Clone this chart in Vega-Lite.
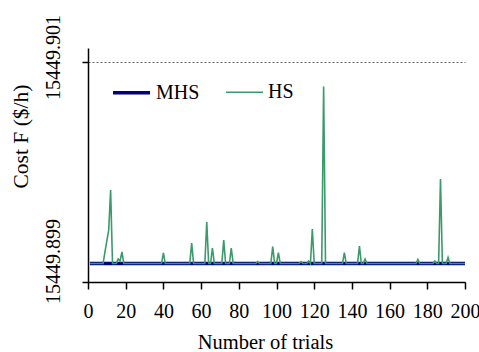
{
"$schema": "https://vega.github.io/schema/vega-lite/v6.json",
"width": 377, "height": 234,
"autosize": "none",
"padding": {"left": 88, "top": 48, "right": 14, "bottom": 70},
"background": "white",
"config": {"font": "Liberation Serif", "view": {"stroke": null}},
"data": {"values": [
{"t":1,"MHS":15449.899168,"HS":15449.899168},{"t":2,"MHS":15449.899168,"HS":15449.899168},{"t":3,"MHS":15449.899168,"HS":15449.899168},{"t":4,"MHS":15449.899168,"HS":15449.899168},{"t":5,"MHS":15449.899168,"HS":15449.899168},
{"t":6,"MHS":15449.899168,"HS":15449.899168},{"t":7,"MHS":15449.899168,"HS":15449.899168},{"t":8,"MHS":15449.899168,"HS":15449.899168},{"t":9,"MHS":15449.899168,"HS":15449.899273},{"t":10,"MHS":15449.899168,"HS":15449.899373},
{"t":11,"MHS":15449.899168,"HS":15449.899473},{"t":12,"MHS":15449.899168,"HS":15449.899836},{"t":13,"MHS":15449.899168,"HS":15449.899168},{"t":14,"MHS":15449.899168,"HS":15449.899168},{"t":15,"MHS":15449.899168,"HS":15449.899168},
{"t":16,"MHS":15449.899168,"HS":15449.899209},{"t":17,"MHS":15449.899168,"HS":15449.899191},{"t":18,"MHS":15449.899168,"HS":15449.899273},{"t":19,"MHS":15449.899168,"HS":15449.899168},{"t":20,"MHS":15449.899168,"HS":15449.899168},
{"t":21,"MHS":15449.899168,"HS":15449.899168},{"t":22,"MHS":15449.899168,"HS":15449.899168},{"t":23,"MHS":15449.899168,"HS":15449.899168},{"t":24,"MHS":15449.899168,"HS":15449.899168},{"t":25,"MHS":15449.899168,"HS":15449.899168},
{"t":26,"MHS":15449.899168,"HS":15449.899168},{"t":27,"MHS":15449.899168,"HS":15449.899168},{"t":28,"MHS":15449.899168,"HS":15449.899168},{"t":29,"MHS":15449.899168,"HS":15449.899168},{"t":30,"MHS":15449.899168,"HS":15449.899168},
{"t":31,"MHS":15449.899168,"HS":15449.899168},{"t":32,"MHS":15449.899168,"HS":15449.899168},{"t":33,"MHS":15449.899168,"HS":15449.899168},{"t":34,"MHS":15449.899168,"HS":15449.899168},{"t":35,"MHS":15449.899168,"HS":15449.899168},
{"t":36,"MHS":15449.899168,"HS":15449.899168},{"t":37,"MHS":15449.899168,"HS":15449.899168},{"t":38,"MHS":15449.899168,"HS":15449.899168},{"t":39,"MHS":15449.899168,"HS":15449.899168},{"t":40,"MHS":15449.899168,"HS":15449.899264},
{"t":41,"MHS":15449.899168,"HS":15449.899168},{"t":42,"MHS":15449.899168,"HS":15449.899168},{"t":43,"MHS":15449.899168,"HS":15449.899168},{"t":44,"MHS":15449.899168,"HS":15449.899168},{"t":45,"MHS":15449.899168,"HS":15449.899168},
{"t":46,"MHS":15449.899168,"HS":15449.899168},{"t":47,"MHS":15449.899168,"HS":15449.899168},{"t":48,"MHS":15449.899168,"HS":15449.899168},{"t":49,"MHS":15449.899168,"HS":15449.899168},{"t":50,"MHS":15449.899168,"HS":15449.899168},
{"t":51,"MHS":15449.899168,"HS":15449.899168},{"t":52,"MHS":15449.899168,"HS":15449.899168},{"t":53,"MHS":15449.899168,"HS":15449.899168},{"t":54,"MHS":15449.899168,"HS":15449.899168},{"t":55,"MHS":15449.899168,"HS":15449.899355},
{"t":56,"MHS":15449.899168,"HS":15449.899168},{"t":57,"MHS":15449.899168,"HS":15449.899168},{"t":58,"MHS":15449.899168,"HS":15449.899168},{"t":59,"MHS":15449.899168,"HS":15449.899168},{"t":60,"MHS":15449.899168,"HS":15449.899168},
{"t":61,"MHS":15449.899168,"HS":15449.899168},{"t":62,"MHS":15449.899168,"HS":15449.899168},{"t":63,"MHS":15449.899168,"HS":15449.899545},{"t":64,"MHS":15449.899168,"HS":15449.899168},{"t":65,"MHS":15449.899168,"HS":15449.899168},
{"t":66,"MHS":15449.899168,"HS":15449.899309},{"t":67,"MHS":15449.899168,"HS":15449.899168},{"t":68,"MHS":15449.899168,"HS":15449.899168},{"t":69,"MHS":15449.899168,"HS":15449.899168},{"t":70,"MHS":15449.899168,"HS":15449.899168},
{"t":71,"MHS":15449.899168,"HS":15449.899168},{"t":72,"MHS":15449.899168,"HS":15449.899382},{"t":73,"MHS":15449.899168,"HS":15449.899168},{"t":74,"MHS":15449.899168,"HS":15449.899168},{"t":75,"MHS":15449.899168,"HS":15449.899168},
{"t":76,"MHS":15449.899168,"HS":15449.899309},{"t":77,"MHS":15449.899168,"HS":15449.899168},{"t":78,"MHS":15449.899168,"HS":15449.899168},{"t":79,"MHS":15449.899168,"HS":15449.899168},{"t":80,"MHS":15449.899168,"HS":15449.899168},
{"t":81,"MHS":15449.899168,"HS":15449.899168},{"t":82,"MHS":15449.899168,"HS":15449.899168},{"t":83,"MHS":15449.899168,"HS":15449.899168},{"t":84,"MHS":15449.899168,"HS":15449.899168},{"t":85,"MHS":15449.899168,"HS":15449.899168},
{"t":86,"MHS":15449.899168,"HS":15449.899168},{"t":87,"MHS":15449.899168,"HS":15449.899168},{"t":88,"MHS":15449.899168,"HS":15449.899168},{"t":89,"MHS":15449.899168,"HS":15449.899168},{"t":90,"MHS":15449.899168,"HS":15449.899186},
{"t":91,"MHS":15449.899168,"HS":15449.899168},{"t":92,"MHS":15449.899168,"HS":15449.899168},{"t":93,"MHS":15449.899168,"HS":15449.899168},{"t":94,"MHS":15449.899168,"HS":15449.899168},{"t":95,"MHS":15449.899168,"HS":15449.899168},
{"t":96,"MHS":15449.899168,"HS":15449.899168},{"t":97,"MHS":15449.899168,"HS":15449.899168},{"t":98,"MHS":15449.899168,"HS":15449.899323},{"t":99,"MHS":15449.899168,"HS":15449.899168},{"t":100,"MHS":15449.899168,"HS":15449.899168},
{"t":101,"MHS":15449.899168,"HS":15449.899268},{"t":102,"MHS":15449.899168,"HS":15449.899168},{"t":103,"MHS":15449.899168,"HS":15449.899168},{"t":104,"MHS":15449.899168,"HS":15449.899168},{"t":105,"MHS":15449.899168,"HS":15449.899168},
{"t":106,"MHS":15449.899168,"HS":15449.899168},{"t":107,"MHS":15449.899168,"HS":15449.899168},{"t":108,"MHS":15449.899168,"HS":15449.899168},{"t":109,"MHS":15449.899168,"HS":15449.899168},{"t":110,"MHS":15449.899168,"HS":15449.899168},
{"t":111,"MHS":15449.899168,"HS":15449.899168},{"t":112,"MHS":15449.899168,"HS":15449.899168},{"t":113,"MHS":15449.899168,"HS":15449.899186},{"t":114,"MHS":15449.899168,"HS":15449.899168},{"t":115,"MHS":15449.899168,"HS":15449.899168},
{"t":116,"MHS":15449.899168,"HS":15449.899168},{"t":117,"MHS":15449.899168,"HS":15449.899191},{"t":118,"MHS":15449.899168,"HS":15449.899168},{"t":119,"MHS":15449.899168,"HS":15449.899482},{"t":120,"MHS":15449.899168,"HS":15449.899168},
{"t":121,"MHS":15449.899168,"HS":15449.899168},{"t":122,"MHS":15449.899168,"HS":15449.899168},{"t":123,"MHS":15449.899168,"HS":15449.899168},{"t":124,"MHS":15449.899168,"HS":15449.899168},{"t":125,"MHS":15449.899168,"HS":15449.900777},
{"t":126,"MHS":15449.899168,"HS":15449.899168},{"t":127,"MHS":15449.899168,"HS":15449.899168},{"t":128,"MHS":15449.899168,"HS":15449.899168},{"t":129,"MHS":15449.899168,"HS":15449.899168},{"t":130,"MHS":15449.899168,"HS":15449.899168},
{"t":131,"MHS":15449.899168,"HS":15449.899168},{"t":132,"MHS":15449.899168,"HS":15449.899168},{"t":133,"MHS":15449.899168,"HS":15449.899168},{"t":134,"MHS":15449.899168,"HS":15449.899168},{"t":135,"MHS":15449.899168,"HS":15449.899168},
{"t":136,"MHS":15449.899168,"HS":15449.899268},{"t":137,"MHS":15449.899168,"HS":15449.899168},{"t":138,"MHS":15449.899168,"HS":15449.899168},{"t":139,"MHS":15449.899168,"HS":15449.899168},{"t":140,"MHS":15449.899168,"HS":15449.899168},
{"t":141,"MHS":15449.899168,"HS":15449.899168},{"t":142,"MHS":15449.899168,"HS":15449.899168},{"t":143,"MHS":15449.899168,"HS":15449.899168},{"t":144,"MHS":15449.899168,"HS":15449.899327},{"t":145,"MHS":15449.899168,"HS":15449.899168},
{"t":146,"MHS":15449.899168,"HS":15449.899168},{"t":147,"MHS":15449.899168,"HS":15449.899209},{"t":148,"MHS":15449.899168,"HS":15449.899168},{"t":149,"MHS":15449.899168,"HS":15449.899168},{"t":150,"MHS":15449.899168,"HS":15449.899168},
{"t":151,"MHS":15449.899168,"HS":15449.899168},{"t":152,"MHS":15449.899168,"HS":15449.899168},{"t":153,"MHS":15449.899168,"HS":15449.899168},{"t":154,"MHS":15449.899168,"HS":15449.899168},{"t":155,"MHS":15449.899168,"HS":15449.899168},
{"t":156,"MHS":15449.899168,"HS":15449.899168},{"t":157,"MHS":15449.899168,"HS":15449.899168},{"t":158,"MHS":15449.899168,"HS":15449.899168},{"t":159,"MHS":15449.899168,"HS":15449.899168},{"t":160,"MHS":15449.899168,"HS":15449.899168},
{"t":161,"MHS":15449.899168,"HS":15449.899168},{"t":162,"MHS":15449.899168,"HS":15449.899168},{"t":163,"MHS":15449.899168,"HS":15449.899168},{"t":164,"MHS":15449.899168,"HS":15449.899168},{"t":165,"MHS":15449.899168,"HS":15449.899168},
{"t":166,"MHS":15449.899168,"HS":15449.899168},{"t":167,"MHS":15449.899168,"HS":15449.899168},{"t":168,"MHS":15449.899168,"HS":15449.899168},{"t":169,"MHS":15449.899168,"HS":15449.899168},{"t":170,"MHS":15449.899168,"HS":15449.899168},
{"t":171,"MHS":15449.899168,"HS":15449.899168},{"t":172,"MHS":15449.899168,"HS":15449.899168},{"t":173,"MHS":15449.899168,"HS":15449.899168},{"t":174,"MHS":15449.899168,"HS":15449.899168},{"t":175,"MHS":15449.899168,"HS":15449.899205},
{"t":176,"MHS":15449.899168,"HS":15449.899168},{"t":177,"MHS":15449.899168,"HS":15449.899168},{"t":178,"MHS":15449.899168,"HS":15449.899168},{"t":179,"MHS":15449.899168,"HS":15449.899168},{"t":180,"MHS":15449.899168,"HS":15449.899168},
{"t":181,"MHS":15449.899168,"HS":15449.899168},{"t":182,"MHS":15449.899168,"HS":15449.899168},{"t":183,"MHS":15449.899168,"HS":15449.899168},{"t":184,"MHS":15449.899168,"HS":15449.899191},{"t":185,"MHS":15449.899168,"HS":15449.899168},
{"t":186,"MHS":15449.899168,"HS":15449.899168},{"t":187,"MHS":15449.899168,"HS":15449.899936},{"t":188,"MHS":15449.899168,"HS":15449.899168},{"t":189,"MHS":15449.899168,"HS":15449.899168},{"t":190,"MHS":15449.899168,"HS":15449.899168},
{"t":191,"MHS":15449.899168,"HS":15449.899223},{"t":192,"MHS":15449.899168,"HS":15449.899168},{"t":193,"MHS":15449.899168,"HS":15449.899168},{"t":194,"MHS":15449.899168,"HS":15449.899168},{"t":195,"MHS":15449.899168,"HS":15449.899168},
{"t":196,"MHS":15449.899168,"HS":15449.899168},{"t":197,"MHS":15449.899168,"HS":15449.899168},{"t":198,"MHS":15449.899168,"HS":15449.899168},{"t":199,"MHS":15449.899168,"HS":15449.899168},{"t":200,"MHS":15449.899168,"HS":15449.899168}
]},
"transform": [{"fold": ["MHS", "HS"], "as": ["series", "cost"]}],
"encoding": {
  "x": {"field": "t", "type": "quantitative", "scale": {"domain": [0, 200], "nice": false},
    "axis": {"values": [0,20,40,60,80,100,120,140,160,180,200], "labelAngle": 0, "labelFlush": false, "labelOverlap": false,
      "labelFont": "Liberation Serif", "labelFontSize": 20, "labelColor": "black", "labelPadding": 12,
      "tickSize": 7, "tickWidth": 1.5, "tickColor": "black", "domainColor": "black", "domainWidth": 1.5, "grid": false,
      "title": "Number of trials", "titleFont": "Liberation Serif", "titleFontSize": 20.5, "titleFontWeight": "normal", "titleColor": "black",
      "titleX": 177, "titleY": 66, "titleAlign": "center", "titleBaseline": "alphabetic"}},
  "y": {"field": "cost", "type": "quantitative", "scale": {"domain": [15449.899, 15449.9011273], "nice": false, "zero": false},
    "axis": {"values": [15449.899, 15449.901], "format": ".3f", "labelAngle": -90, "labelAlign": "center", "labelBaseline": "bottom",
      "labelFont": "Liberation Serif", "labelFontSize": 20, "labelColor": "black", "labelPadding": 19,
      "labelOffset": {"condition": {"test": "datum.value < 15449.9", "value": -21}, "value": -5},
      "tickSize": 6, "tickWidth": 1.5, "tickColor": "black", "domainColor": "black", "domainWidth": 1.5,
      "grid": true, "gridColor": "#666666", "gridDash": [2, 2], "gridWidth": 1,
      "title": "Cost F ($/h)", "titleFont": "Liberation Serif", "titleFontSize": 21.5, "titleFontWeight": "normal", "titleColor": "black",
      "titleX": -61, "titleY": 88, "titleAlign": "center", "titleBaseline": "alphabetic", "titleAngle": 270}},
  "color": {"field": "series", "type": "nominal", "scale": {"domain": ["MHS", "HS"], "range": ["#000080", "#3a9a6a"]},
    "legend": {"orient": "none", "legendX": 23, "legendY": 24, "direction": "horizontal", "title": null, "symbolType": "stroke",
      "symbolSize": 1369, "labelFont": "Liberation Serif", "labelFontSize": 20, "labelColor": "black", "labelOffset": 4, "columnPadding": 22}},
  "strokeWidth": {"field": "series", "type": "nominal", "scale": {"domain": ["MHS", "HS"], "range": [3.5, 1.6]},
    "legend": {"orient": "none", "legendX": 23, "legendY": 24, "direction": "horizontal", "title": null, "symbolType": "stroke",
      "symbolSize": 1369, "labelFont": "Liberation Serif", "labelFontSize": 20, "labelColor": "black", "labelOffset": 4, "columnPadding": 22}}
},
"layer": [
  {"transform": [{"filter": "datum.series == 'MHS'"}], "mark": {"type": "line"}},
  {"transform": [{"filter": "datum.series == 'HS'"}], "mark": {"type": "line"}}
]
}
